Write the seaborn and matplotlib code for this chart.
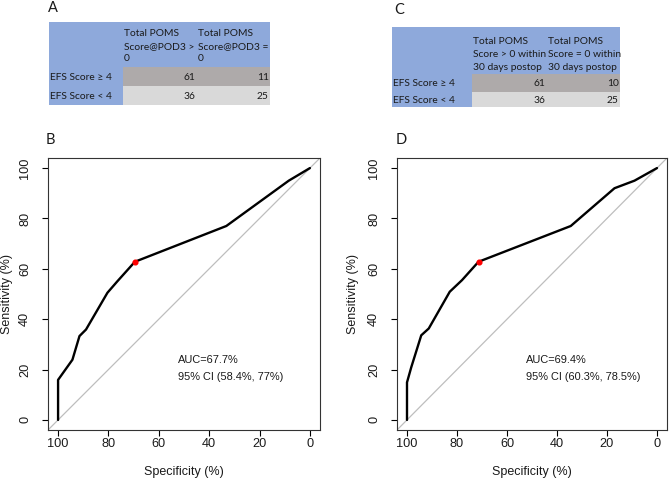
import matplotlib
matplotlib.use("Agg")
import matplotlib.pyplot as plt
from matplotlib.patches import Rectangle
import seaborn as sns
import pandas as pd

# ---------------- data ----------------
row_labels = ["EFS Score \u2265 4", "EFS Score < 4"]
colsA = ["Total POMS\nScore@POD3 >\n0", "Total POMS\nScore@POD3 =\n0"]
colsC = ["Total POMS\nScore > 0 within\n30 days postop", "Total POMS\nScore = 0 within\n30 days postop"]
valuesA = [[61, 11], [36, 25]]
valuesC = [[61, 10], [36, 25]]

specB = [100, 100, 94.3, 91.5, 88.9, 80.4, 76.5, 69.5, 33.2, 8.4, 0]
sensB = [0, 15.9, 23.9, 33.3, 35.9, 50.5, 55.0, 62.8, 77.0, 95.0, 100]
cutB = (69.5, 62.8)
aucB = ["AUC=67.7%", "95% CI (58.4%, 77%)"]

specD = [100, 100, 98.3, 94.3, 91.3, 82.9, 78.0, 71.4, 34.5, 17.0, 9.0, 0]
sensD = [0, 14.9, 20.9, 33.6, 36.3, 50.9, 55.5, 62.8, 77.0, 92.0, 95.0, 100]
cutD = (71.4, 62.8)
aucD = ["AUC=69.4%", "95% CI (60.3%, 78.5%)"]

ticks = [0, 20, 40, 60, 80, 100]

# ---------------- style ----------------
sns.set_theme(style="white")
plt.rcParams["font.family"] = ["Liberation Sans", "DejaVu Sans"]
TFONT = ["Lato", "DejaVu Sans"]

W, H = 669, 483
fig = plt.figure(figsize=(W / 100, H / 100), dpi=100)
fig.patch.set_facecolor("white")

BLUE = "#8EA9DB"
GRAY1 = "#AEAAAA"
GRAY2 = "#D9D9D9"
TSIZE = 7.4


def px_axes(x0, y0, x1, y1):
    return fig.add_axes([x0 / W, 1 - y1 / H, (x1 - x0) / W, (y1 - y0) / H])


def draw_table(box, col_edges, row_edges, headers, values, line0, spacing):
    x0, y0, x1, y1 = box
    ax = px_axes(x0, y0, x1, y1)
    ax.set_xlim(x0, x1)
    ax.set_ylim(y1, y0)
    ax.axis("off")
    ax.add_patch(Rectangle((x0, y0), x1 - x0, row_edges[1] - y0, color=BLUE, lw=0))
    ax.add_patch(Rectangle((x0, y0), col_edges[1] - x0, y1 - y0, color=BLUE, lw=0))
    for r, col in enumerate([GRAY1, GRAY2]):
        ax.add_patch(Rectangle((col_edges[1], row_edges[r + 1]), x1 - col_edges[1],
                               row_edges[r + 2] - row_edges[r + 1], color=col, lw=0))
    for c, h in enumerate(headers):
        for k, line in enumerate(h.split("\n")):
            ax.text(col_edges[c + 1] + 1.2, line0 + k * spacing, line, family=TFONT,
                    fontsize=TSIZE, ha="left", va="center", color="#1a1a1a")
    for r, lab in enumerate(row_labels):
        yc = (row_edges[r + 1] + row_edges[r + 2]) / 2 + 1
        ax.text(x0 + 1.2, yc, lab, family=TFONT, fontsize=TSIZE, ha="left", va="center",
                color="#1a1a1a")
        for c in range(2):
            ax.text(col_edges[c + 2] - 1.2, yc, str(values[r][c]), family=TFONT,
                    fontsize=TSIZE, ha="right", va="center", color="#1a1a1a")


draw_table((49, 22, 270, 105), [49, 123, 197, 270], [22, 67, 86, 105], colsA, valuesA, 34, 12.3)
draw_table((392, 27, 620, 107), [392, 472, 547, 620], [27, 74, 92, 107], colsC, valuesC, 42, 12.8)


def draw_roc(box, spec, sens, cut, auc, ylab_x):
    x0, y0, x1, y1 = box
    ax = px_axes(x0, y0, x1, y1)
    df = pd.DataFrame({"spec": spec, "sens": sens})
    ax.axline((100, 0), (0, 100), color="#BEBEBE", lw=0.9, zorder=1)
    sns.lineplot(data=df, x="spec", y="sens", sort=False, estimator=None, color="black",
                 lw=1.7, ax=ax, zorder=2)
    ax.plot([cut[0]], [cut[1]], "o", color="red", ms=3.4, zorder=3)
    ax.set_xlim(104, -4)
    ax.set_ylim(-4, 104)
    ax.set_xticks(ticks[::-1])
    ax.set_yticks(ticks)
    ax.set_xticklabels([str(t) for t in ticks[::-1]])
    ax.set_yticklabels([str(t) for t in ticks], rotation=90, va="center")
    ax.tick_params(axis="both", direction="out", length=4.6, width=0.8, color="black",
                   labelsize=9.2, labelcolor="#1a1a1a", bottom=True, left=True)
    ax.tick_params(axis="x", pad=1.5)
    ax.tick_params(axis="y", pad=7.5)
    for s in ax.spines.values():
        s.set_color("#333333")
        s.set_linewidth(0.8)
    ax.set_xlabel("Specificity (%)", fontsize=9, color="#1a1a1a")
    ax.set_ylabel("Sensitivity (%)", fontsize=9, color="#1a1a1a")
    hpx = y1 - y0
    wpx = x1 - x0
    ax.xaxis.set_label_coords(0.5, (y1 - 472) / hpx)
    ax.xaxis.label.set_verticalalignment("center")
    ax.yaxis.set_label_coords((ylab_x - x0) / wpx, 0.5)
    ax.yaxis.label.set_verticalalignment("center")
    ax.text(52.3, 23.9, auc[0], fontsize=7.9, ha="left", va="center", color="#1a1a1a")
    ax.text(52.3, 17.2, auc[1], fontsize=7.9, ha="left", va="center", color="#1a1a1a")
    return ax


draw_roc((48, 158, 320, 430), specB, sensB, cutB, aucB, 7)
draw_roc((397, 158, 667, 430), specD, sensD, cutD, aucD, 353)

for lab, (x, y) in zip(["A", "C", "B", "D"], [(53, 8), (399, 10), (50, 140), (401, 140)]):
    fig.text(x / W, 1 - y / H, lab, family=TFONT, fontsize=10.5, ha="center", va="center",
             color="#1a1a1a")

fig.savefig("out.png", dpi=100, facecolor="white")
